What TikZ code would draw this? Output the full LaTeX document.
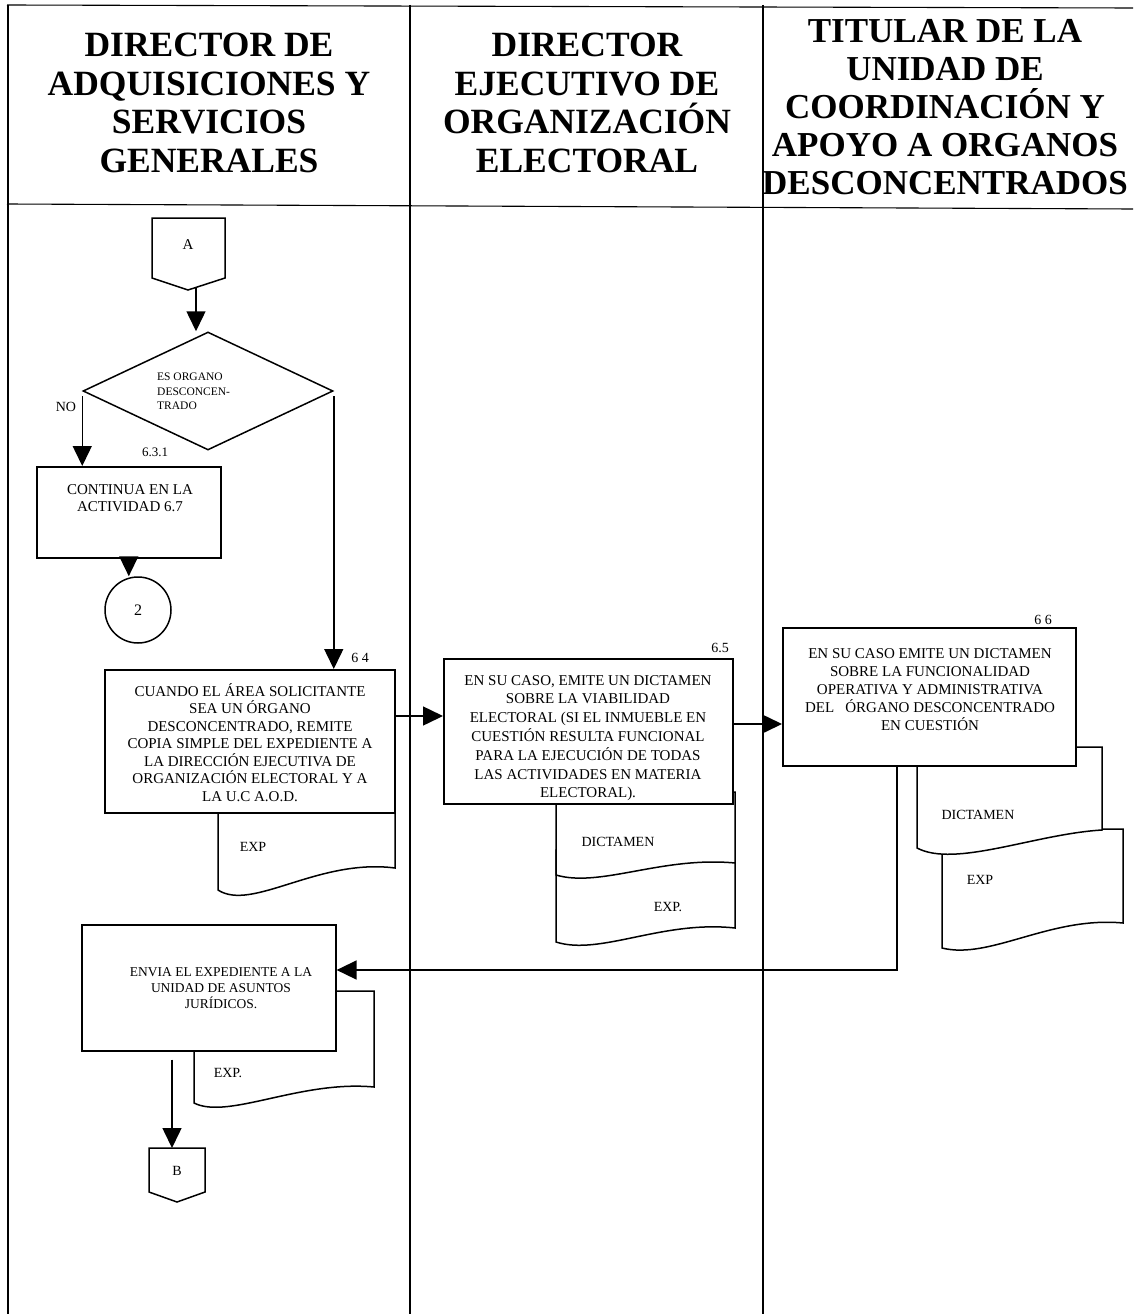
\documentclass[tikz,border=0pt]{standalone}
\usepackage{fontspec}
\setmainfont{Liberation Serif}
\usetikzlibrary{arrows.meta,shapes.geometric}
\begin{document}
\begin{tikzpicture}[x=1pt,y=-1pt,
  lane/.style={line width=1.1pt},
  head/.style={font=\fontsize{35.5}{38.7}\selectfont\bfseries, align=center, inner sep=0pt},
  procbox/.style={draw, line width=1.6pt, fill=white, inner sep=0pt, anchor=north west},
  btext/.style={font=\fontsize{15}{17.5}\selectfont, align=center, inner sep=0pt, anchor=north},
  doc/.style={draw, line width=1.5pt, fill=white},
  dlabel/.style={font=\fontsize{14}{16}\selectfont, inner sep=0pt},
  stepno/.style={font=\fontsize{14}{16}\selectfont, inner sep=0pt},
  offpage/.style={draw, line width=1.5pt, fill=white},
  flow/.style={line width=1.5pt, -{Triangle[length=20pt,width=19pt]}},
]
\useasboundingbox (0,0) rectangle (1133,1314);

% swimlane frame
\draw[lane] (7,5) -- (1133,8);
\draw[lane] (7,204) -- (1133,209);
\draw[lane] (8,5) -- (8,1314);
\draw[lane] (410,5) -- (410,1314);
\draw[lane] (763,5) -- (763,1314);

% lane titles
\node[head] (h1) at (209,103) {DIRECTOR DE\\ADQUISICIONES Y\\SERVICIOS\\GENERALES};
\node[head] (h2) at (587,103) {DIRECTOR\\EJECUTIVO DE\\ORGANIZACIÓN\\ELECTORAL};
\node[head, font=\fontsize{35}{38}\selectfont\bfseries] (h3) at (945,107)
  {TITULAR DE LA\\UNIDAD DE\\COORDINACIÓN Y\\APOYO A ORGANOS\\DESCONCENTRADOS};

% off-page connector A
\draw[offpage] (152,218) -- (225,218) -- (225,278) -- (188,290) -- (152,278) -- cycle;
\node[font=\fontsize{15}{17}\selectfont, inner sep=0pt] (conA) at (188,245) {A};
\coordinate (Aout) at (196,287);

% decision
\node[draw, diamond, line width=1.5pt, minimum width=250pt, minimum height=118pt,
      inner sep=0pt] (dec) at (208,391) {};
\node[font=\fontsize{11.5}{14.5}\selectfont, align=left, inner sep=0pt, anchor=north west]
  (decT) at (157,373) {ES ORGANO\\DESCONCEN-\\TRADO};
\node[stepno] (lno) at (66,407) {NO};
\node[font=\fontsize{13}{15}\selectfont, inner sep=0pt] (l631) at (155,452) {6.3.1};

% step 6.3.1 and on-page connector 2
\node[procbox, minimum width=184pt, minimum height=91pt] (b631) at (36,466) {};
\node[btext, font=\fontsize{15}{17}\selectfont] (t631) at (130,484) {CONTINUA EN LA\\ACTIVIDAD 6.7};
\node[draw, circle, line width=1.5pt, minimum size=66pt, inner sep=0pt,
      font=\fontsize{16}{18}\selectfont] (c2) at (138,610) {2};

% documents (drawn before the boxes that overlap them)
\draw[doc] (218,737) -- (218,890) .. controls (252,912) and (318,858) .. (395,868) -- (395,737) -- cycle;
\draw[doc] (556,850) -- (556,942) .. controls (600,956) and (662,920) .. (735,928) -- (735,850) -- cycle;
\draw[doc] (556,792) -- (556,875) .. controls (600,888) and (662,856) .. (735,863) -- (735,792) -- cycle;
\draw[doc] (942,829) -- (942,948) .. controls (990,960) and (1050,916) .. (1123,923) -- (1123,829) -- cycle;
\draw[doc] (917,747) -- (917,848) .. controls (955,868) and (1035,834) .. (1102,830) -- (1102,747) -- cycle;
\draw[doc] (194,991) -- (194,1103) .. controls (228,1120) and (300,1080) .. (374,1087) -- (374,991) -- cycle;
\node[dlabel] (e1) at (253,847) {EXP};
\node[dlabel] (d2) at (618,842) {DICTAMEN};
\node[dlabel] (e3) at (668,907) {EXP.};
\node[dlabel] (d4) at (978,815) {DICTAMEN};
\node[dlabel] (e5) at (980,880) {EXP};
\node[dlabel] (e6) at (228,1073) {EXP.};

% step 6.4
\node[procbox, minimum width=290pt, minimum height=143pt] (b64) at (104,669) {};
\node[btext] (t64) at (250,683) {CUANDO EL ÁREA SOLICITANTE\\SEA UN ÓRGANO\\DESCONCENTRADO, REMITE\\COPIA SIMPLE DEL EXPEDIENTE A\\LA DIRECCIÓN EJECUTIVA DE\\ORGANIZACIÓN ELECTORAL Y A\\LA U.C A.O.D.};
\node[stepno] (l64) at (360,658) {6 4};

% step 6.5
\node[procbox, minimum width=289pt, minimum height=145pt] (b65) at (443,658) {};
\node[btext, font=\fontsize{15}{18.8}\selectfont] (t65) at (588,675) {EN SU CASO, EMITE UN DICTAMEN\\SOBRE LA VIABILIDAD\\ELECTORAL (SI EL INMUEBLE EN\\CUESTIÓN RESULTA FUNCIONAL\\PARA LA EJECUCIÓN DE TODAS\\LAS ACTIVIDADES EN MATERIA\\ELECTORAL).};
\node[stepno] (l65) at (720,648) {6.5};

% step 6.6
\node[procbox, minimum width=293pt, minimum height=138pt] (b66) at (782,627) {};
\node[btext, font=\fontsize{15}{18}\selectfont] (t66) at (930,648) {EN SU CASO EMITE UN DICTAMEN\\SOBRE LA FUNCIONALIDAD\\OPERATIVA Y ADMINISTRATIVA\\DEL\ \ \ ÓRGANO DESCONCENTRADO\\EN CUESTIÓN};
\node[stepno] (l66) at (1043,620) {6 6};

% step: send file
\node[procbox, minimum width=254pt, minimum height=126pt] (benv) at (81,924) {};
\node[btext, font=\fontsize{13.5}{16}\selectfont] (tenv) at (221,967) {ENVIA EL EXPEDIENTE A LA\\UNIDAD DE ASUNTOS\\JURÍDICOS.};

% off-page connector B
\draw[offpage] (149,1148) -- (205,1148) -- (205,1192) -- (177,1202) -- (149,1192) -- cycle;
\node[font=\fontsize{14}{16}\selectfont, inner sep=0pt] (conB) at (177,1171) {B};
\coordinate (Btop) at (172,1148);

% connectors
\coordinate (y1) at (0,716);
\coordinate (y2) at (0,724);
\coordinate (bend) at (897,970);
\draw[flow] (Aout) -- (Aout |- dec.north);
\draw[flow, shorten <=5pt] (dec.west) -- (dec.west |- b631.north);
\draw[flow, shorten <=5pt] (dec.east) -- (dec.east |- b64.north);
\draw[flow] (b631.south) -- (b631.south |- c2.north);
\draw[flow] (b64.east |- y1) -- (b65.west |- y1);
\draw[flow] (b65.east |- y2) -- (b66.west |- y2);
\draw[flow] (b66.south -| bend) -- (bend) -- (benv.east |- bend);
\draw[flow, shorten <=8pt] (benv.south -| Btop) -- (Btop);
\end{tikzpicture}
\end{document}
